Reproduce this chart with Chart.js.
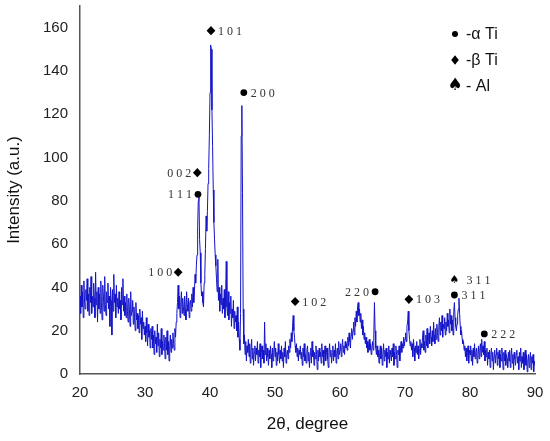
<!DOCTYPE html>
<html>
<head>
<meta charset="utf-8">
<script src="https://cdn.jsdelivr.net/npm/chart.js@4.4.1/dist/chart.umd.min.js"></script>
<style>
  html, body { margin: 0; padding: 0; background: #fff; }
  #wrap { width: 550px; height: 441px; }
</style>
</head>
<body>
<div id="wrap"><canvas id="xrd"></canvas></div>
<script>
// 2-theta scan positions (degree), one row per degree
const twoTheta = [
  20, 20.1, 20.2, 20.3, 20.4, 20.5, 20.6, 20.7, 20.8, 20.9,
  21, 21.1, 21.2, 21.3, 21.4, 21.5, 21.6, 21.7, 21.8, 21.9,
  22, 22.1, 22.2, 22.3, 22.4, 22.5, 22.6, 22.7, 22.8, 22.9,
  23, 23.1, 23.2, 23.3, 23.4, 23.5, 23.6, 23.7, 23.8, 23.9,
  24, 24.1, 24.2, 24.3, 24.4, 24.5, 24.6, 24.7, 24.8, 24.9,
  25, 25.1, 25.2, 25.3, 25.4, 25.5, 25.6, 25.7, 25.8, 25.9,
  26, 26.1, 26.2, 26.3, 26.4, 26.5, 26.6, 26.7, 26.8, 26.9,
  27, 27.1, 27.2, 27.3, 27.4, 27.5, 27.6, 27.7, 27.8, 27.9,
  28, 28.1, 28.2, 28.3, 28.4, 28.5, 28.6, 28.7, 28.8, 28.9,
  29, 29.1, 29.2, 29.3, 29.4, 29.5, 29.6, 29.7, 29.8, 29.9,
  30, 30.1, 30.2, 30.3, 30.4, 30.5, 30.6, 30.7, 30.8, 30.9,
  31, 31.1, 31.2, 31.3, 31.4, 31.5, 31.6, 31.7, 31.8, 31.9,
  32, 32.1, 32.2, 32.3, 32.4, 32.5, 32.6, 32.7, 32.8, 32.9,
  33, 33.1, 33.2, 33.3, 33.4, 33.5, 33.6, 33.7, 33.8, 33.9,
  34, 34.1, 34.2, 34.3, 34.4, 34.5, 34.6, 34.7, 34.8, 34.9,
  35, 35.1, 35.2, 35.3, 35.4, 35.5, 35.6, 35.7, 35.8, 35.9,
  36, 36.1, 36.2, 36.3, 36.4, 36.5, 36.6, 36.7, 36.8, 36.9,
  37, 37.1, 37.2, 37.3, 37.4, 37.5, 37.6, 37.7, 37.8, 37.9,
  38, 38.1, 38.2, 38.3, 38.4, 38.5, 38.6, 38.7, 38.8, 38.9,
  39, 39.1, 39.2, 39.3, 39.4, 39.5, 39.6, 39.7, 39.8, 39.9,
  40, 40.1, 40.2, 40.3, 40.4, 40.5, 40.6, 40.7, 40.8, 40.9,
  41, 41.1, 41.2, 41.3, 41.4, 41.5, 41.6, 41.7, 41.8, 41.9,
  42, 42.1, 42.2, 42.3, 42.4, 42.5, 42.6, 42.7, 42.8, 42.9,
  43, 43.1, 43.2, 43.3, 43.4, 43.5, 43.6, 43.7, 43.8, 43.9,
  44, 44.1, 44.2, 44.3, 44.4, 44.5, 44.6, 44.7, 44.8, 44.9,
  45, 45.1, 45.2, 45.3, 45.4, 45.5, 45.6, 45.7, 45.8, 45.9,
  46, 46.1, 46.2, 46.3, 46.4, 46.5, 46.6, 46.7, 46.8, 46.9,
  47, 47.1, 47.2, 47.3, 47.4, 47.5, 47.6, 47.7, 47.8, 47.9,
  48, 48.1, 48.2, 48.3, 48.4, 48.5, 48.6, 48.7, 48.8, 48.9,
  49, 49.1, 49.2, 49.3, 49.4, 49.5, 49.6, 49.7, 49.8, 49.9,
  50, 50.1, 50.2, 50.3, 50.4, 50.5, 50.6, 50.7, 50.8, 50.9,
  51, 51.1, 51.2, 51.3, 51.4, 51.5, 51.6, 51.7, 51.8, 51.9,
  52, 52.1, 52.2, 52.3, 52.4, 52.5, 52.6, 52.7, 52.8, 52.9,
  53, 53.1, 53.2, 53.3, 53.4, 53.5, 53.6, 53.7, 53.8, 53.9,
  54, 54.1, 54.2, 54.3, 54.4, 54.5, 54.6, 54.7, 54.8, 54.9,
  55, 55.1, 55.2, 55.3, 55.4, 55.5, 55.6, 55.7, 55.8, 55.9,
  56, 56.1, 56.2, 56.3, 56.4, 56.5, 56.6, 56.7, 56.8, 56.9,
  57, 57.1, 57.2, 57.3, 57.4, 57.5, 57.6, 57.7, 57.8, 57.9,
  58, 58.1, 58.2, 58.3, 58.4, 58.5, 58.6, 58.7, 58.8, 58.9,
  59, 59.1, 59.2, 59.3, 59.4, 59.5, 59.6, 59.7, 59.8, 59.9,
  60, 60.1, 60.2, 60.3, 60.4, 60.5, 60.6, 60.7, 60.8, 60.9,
  61, 61.1, 61.2, 61.3, 61.4, 61.5, 61.6, 61.7, 61.8, 61.9,
  62, 62.1, 62.2, 62.3, 62.4, 62.5, 62.6, 62.7, 62.8, 62.9,
  63, 63.1, 63.2, 63.3, 63.4, 63.5, 63.6, 63.7, 63.8, 63.9,
  64, 64.1, 64.2, 64.3, 64.4, 64.5, 64.6, 64.7, 64.8, 64.9,
  65, 65.1, 65.2, 65.3, 65.4, 65.5, 65.6, 65.7, 65.8, 65.9,
  66, 66.1, 66.2, 66.3, 66.4, 66.5, 66.6, 66.7, 66.8, 66.9,
  67, 67.1, 67.2, 67.3, 67.4, 67.5, 67.6, 67.7, 67.8, 67.9,
  68, 68.1, 68.2, 68.3, 68.4, 68.5, 68.6, 68.7, 68.8, 68.9,
  69, 69.1, 69.2, 69.3, 69.4, 69.5, 69.6, 69.7, 69.8, 69.9,
  70, 70.1, 70.2, 70.3, 70.4, 70.5, 70.6, 70.7, 70.8, 70.9,
  71, 71.1, 71.2, 71.3, 71.4, 71.5, 71.6, 71.7, 71.8, 71.9,
  72, 72.1, 72.2, 72.3, 72.4, 72.5, 72.6, 72.7, 72.8, 72.9,
  73, 73.1, 73.2, 73.3, 73.4, 73.5, 73.6, 73.7, 73.8, 73.9,
  74, 74.1, 74.2, 74.3, 74.4, 74.5, 74.6, 74.7, 74.8, 74.9,
  75, 75.1, 75.2, 75.3, 75.4, 75.5, 75.6, 75.7, 75.8, 75.9,
  76, 76.1, 76.2, 76.3, 76.4, 76.5, 76.6, 76.7, 76.8, 76.9,
  77, 77.1, 77.2, 77.3, 77.4, 77.5, 77.6, 77.7, 77.8, 77.9,
  78, 78.1, 78.2, 78.3, 78.4, 78.5, 78.6, 78.7, 78.8, 78.9,
  79, 79.1, 79.2, 79.3, 79.4, 79.5, 79.6, 79.7, 79.8, 79.9,
  80, 80.1, 80.2, 80.3, 80.4, 80.5, 80.6, 80.7, 80.8, 80.9,
  81, 81.1, 81.2, 81.3, 81.4, 81.5, 81.6, 81.7, 81.8, 81.9,
  82, 82.1, 82.2, 82.3, 82.4, 82.5, 82.6, 82.7, 82.8, 82.9,
  83, 83.1, 83.2, 83.3, 83.4, 83.5, 83.6, 83.7, 83.8, 83.9,
  84, 84.1, 84.2, 84.3, 84.4, 84.5, 84.6, 84.7, 84.8, 84.9,
  85, 85.1, 85.2, 85.3, 85.4, 85.5, 85.6, 85.7, 85.8, 85.9,
  86, 86.1, 86.2, 86.3, 86.4, 86.5, 86.6, 86.7, 86.8, 86.9,
  87, 87.1, 87.2, 87.3, 87.4, 87.5, 87.6, 87.7, 87.8, 87.9,
  88, 88.1, 88.2, 88.3, 88.4, 88.5, 88.6, 88.7, 88.8, 88.9,
  89, 89.1, 89.2, 89.3, 89.4, 89.5, 89.6, 89.7, 89.8, 89.9,
  90
];

// intensity (a.u.), same rows as twoTheta
const intensity = [
  36, 28, 41, 31, 38, 26, 43, 33, 30, 39,
  34, 44, 29, 37, 27, 40, 33, 45, 28, 36,
  31, 42, 35, 26, 47, 32, 38, 24, 40, 30,
  37, 28, 43, 33, 25, 41, 36, 29, 45, 32,
  27, 38, 33, 42, 30, 36, 22, 40, 34, 18,
  39, 29, 46, 33, 37, 26, 41, 31, 35, 28,
  38, 30, 34, 25, 40, 32, 44, 29, 36, 27,
  33, 26, 37, 29, 24, 35, 30, 22, 38, 27,
  29, 34, 23, 31, 26, 20, 33, 25, 28, 21,
  27, 19, 30, 23, 26, 16, 29, 21, 24, 18,
  22, 15, 26, 19, 13, 23, 17, 20, 12, 21,
  16, 22, 12, 18, 9, 20, 14, 17, 10, 23,
  13, 19, 8, 16, 12, 21, 9, 15, 11, 18,
  14, 7, 17, 11, 20, 9, 15, 6, 13, 18,
  10, 16, 12, 19, 14, 11, 21, 17, 24, 28,
  33, 41, 30, 36, 26, 33, 38, 28, 35, 31,
  27, 36, 30, 25, 38, 32, 29, 35, 26, 33,
  34, 29, 37, 31, 40, 33, 38, 46, 42, 50,
  55, 68, 80, 82, 62, 56, 42, 36, 38, 33,
  31, 42, 46, 58, 73, 66, 75, 88, 95, 110,
  130, 152, 150, 122, 105, 85, 70, 62, 55, 50,
  44, 38, 53, 34, 40, 29, 37, 32, 41, 28,
  35, 30, 39, 26, 36, 52, 31, 27, 38, 25,
  33, 28, 36, 22, 30, 26, 34, 21, 29, 24,
  27, 20, 31, 17, 24, 16, 11, 28, 110, 124,
  84, 30, 14, 18, 9, 15, 6, 13, 10, 16,
  8, 14, 5, 11, 16, 7, 12, 4, 10, 13,
  6, 12, 9, 15, 5, 11, 8, 14, 3, 10,
  13, 7, 11, 5, 24, 9, 14, 6, 12, 8,
  4, 11, 7, 13, 9, 3, 12, 6, 10, 15,
  8, 12, 4, 10, 6, 14, 9, 5, 11, 7,
  13, 6, 10, 3, 12, 8, 15, 5, 9, 11,
  7, 13, 10, 16, 12, 19, 15, 22, 27, 20,
  17, 13, 10, 14, 8, 12, 6, 11, 9, 13,
  7, 10, 4, 12, 8, 14, 6, 9, 5, 11,
  13, 6, 10, 3, 9, 12, 5, 15, 8, 11,
  4, 10, 7, 13, 9, 2, 11, 6, 12, 8,
  10, 5, 14, 8, 11, 4, 9, 13, 6, 10,
  12, 7, 3, 10, 14, 8, 11, 5, 9, 13,
  6, 11, 8, 14, 5, 10, 12, 7, 15, 9,
  11, 14, 8, 12, 16, 10, 13, 9, 15, 12,
  14, 11, 17, 13, 19, 15, 12, 18, 21, 16,
  20, 24, 18, 26, 22, 29, 24, 31, 33, 27,
  30, 24, 28, 21, 25, 18, 22, 16, 19, 14,
  17, 12, 15, 10, 13, 16, 11, 14, 9, 12,
  15, 11, 18, 33, 20, 12, 9, 13, 8, 11,
  5, 10, 13, 7, 12, 4, 9, 14, 6, 11,
  8, 12, 3, 10, 7, 13, 5, 11, 9, 6,
  12, 8, 14, 4, 10, 7, 13, 9, 3, 11,
  9, 13, 6, 11, 15, 10, 14, 12, 17, 13,
  16, 19, 15, 22, 24, 29, 20, 16, 13, 15,
  11, 14, 8, 16, 12, 6, 13, 10, 15, 9,
  13, 7, 11, 16, 9, 14, 12, 17, 20, 11,
  15, 10, 18, 13, 21, 12, 16, 19, 14, 22,
  17, 13, 20, 15, 24, 18, 14, 21, 16, 23,
  19, 15, 22, 26, 18, 24, 20, 27, 17, 23,
  21, 26, 18, 24, 20, 28, 22, 25, 19, 30,
  23, 27, 20, 25, 18, 29, 33, 26, 22, 20,
  23, 27, 30, 35, 28, 22, 18, 20, 16, 14,
  15, 11, 13, 8, 12, 6, 10, 13, 5, 11,
  9, 13, 6, 11, 4, 12, 8, 14, 7, 10,
  12, 5, 9, 13, 7, 11, 14, 8, 16, 10,
  13, 9, 15, 6, 11, 8, 12, 4, 10, 7,
  11, 3, 9, 12, 6, 10, 2, 8, 11, 5,
  9, 12, 4, 10, 7, 11, 3, 9, 6, 12,
  8, 2, 10, 6, 11, 4, 9, 7, 3, 10,
  6, 11, 3, 8, 12, 5, 9, 2, 10, 7,
  4, 9, 11, 5, 8, 2, 10, 6, 12, 3,
  8, 5, 10, 2, 7, 11, 4, 9, 1, 6,
  9, 3, 7, 10, 2, 8, 5, 9, 1, 6,
  4
];

// peak indexing: phase, hkl, where the marker sits (degree, intensity)
const peakPhase = ['beta', 'alpha', 'beta', 'alpha', 'beta', 'beta', 'alpha', 'beta', 'al', 'alpha', 'alpha'];
const peakHkl   = ['101', '200', '002', '111', '100', '102', '220', '103', '311', '311', '222'];
const peakAt    = [40.15, 45.2, 38.05, 38.15, 35.1, 53.1, 65.4, 70.6, 77.6, 77.6, 82.2];
const peakH     = [158.6, 130, 93, 83, 47, 33.5, 38, 34.5, 43.5, 36.5, 18.5];
const peakSide  = ['r', 'r', 'l', 'l', 'l', 'r', 'l', 'r', 'r', 'r', 'r'];

const legendText = ['-\u03b1 Ti', '-\u03b2 Ti', '- Al'];
const legendPhase = ['alpha', 'beta', 'al'];

const points = twoTheta.map((t, i) => ({ x: t, y: intensity[i] }));

function drawMark(ctx, phase, px, py, big) {
  ctx.fillStyle = '#000';
  if (phase === 'alpha') {
    ctx.beginPath();
    ctx.arc(px, py, big ? 3 : 3.4, 0, Math.PI * 2);
    ctx.fill();
  } else if (phase === 'beta') {
    const w = big ? 3.8 : 4.4, h = big ? 4.8 : 4.6;
    ctx.beginPath();
    ctx.moveTo(px, py - h);
    ctx.lineTo(px + w, py);
    ctx.lineTo(px, py + h);
    ctx.lineTo(px - w, py);
    ctx.closePath();
    ctx.fill();
  } else {
    ctx.font = (big ? 17 : 11) + 'px "DejaVu Sans"';
    ctx.textAlign = 'center';
    ctx.textBaseline = 'middle';
    ctx.fillText('\u2660', px, py);
  }
}

const peakNotes = {
  id: 'peakNotes',
  afterDraw(chart) {
    const { ctx, scales: { x, y } } = chart;
    ctx.save();
    peakHkl.forEach((hkl, i) => {
      const px = x.getPixelForValue(peakAt[i]);
      const py = y.getPixelForValue(peakH[i]);
      const phase = peakPhase[i];
      drawMark(ctx, phase, px, py, false);
      const gap = phase === 'al' ? 12 : 7;
      ctx.font = '12px "Liberation Serif", "Times New Roman", serif';
      ctx.fillStyle = '#333';
      ctx.textBaseline = 'middle';
      ctx.textAlign = peakSide[i] === 'l' ? 'right' : 'left';
      const tx = peakSide[i] === 'l' ? px - gap + 1 : px + gap;
      ctx.fillText(hkl.split('').join(' '), tx, py + 1);
    });
    // legend, top right
    legendText.forEach((t, i) => {
      const ly = 34 + i * 26;
      drawMark(ctx, legendPhase[i], 455, ly, true);
      ctx.font = '16px "Liberation Sans", Arial, sans-serif';
      ctx.fillStyle = '#111';
      ctx.textAlign = 'left';
      ctx.textBaseline = 'middle';
      ctx.fillText(t, 466, ly + 1);
    });
    ctx.restore();
  }
};

const tickFont = { family: '"Liberation Sans", Arial, sans-serif', size: 15 };
const titleFont = { family: '"Liberation Sans", Arial, sans-serif', size: 17 };

new Chart(document.getElementById('xrd'), {
  type: 'line',
  data: {
    datasets: [{
      label: 'XRD',
      data: points,
      borderColor: 'rgb(20, 20, 200)',
      borderWidth: 1,
      pointRadius: 0,
      tension: 0,
      fill: false
    }]
  },
  options: {
    responsive: true,
    maintainAspectRatio: false,
    animation: false,
    layout: { padding: { top: 6, right: 15, left: 0, bottom: 0 } },
    plugins: {
      legend: { display: false },
      tooltip: { enabled: false }
    },
    scales: {
      x: {
        type: 'linear',
        min: 20,
        max: 90,
        grid: { display: false, drawTicks: false },
        border: { display: true, color: '#555', width: 1.5 },
        ticks: { stepSize: 10, font: tickFont, color: '#222', padding: 10, maxRotation: 0 },
        title: { display: true, text: '2\u03b8, degree', font: titleFont, color: '#111', padding: { top: 4, bottom: 6 } },
        afterFit(scale) {
          scale.height = 67;
          scale.paddingLeft = 0;
          scale.paddingRight = 0;
        }
      },
      y: {
        min: 0,
        max: 170,
        grid: { display: false, drawTicks: false },
        border: { display: true, color: '#555', width: 1.5 },
        ticks: { stepSize: 20, font: tickFont, color: '#222', padding: 12 },
        afterBuildTicks(scale) { scale.ticks = scale.ticks.filter(t => t.value <= 160); },
        title: { display: true, text: 'Intensity (a.u.)', font: titleFont, color: '#111', padding: { top: 4, bottom: 4 } },
        afterFit(scale) {
          scale.width = 80;
          scale.paddingTop = 0;
          scale.paddingBottom = 0;
        }
      }
    }
  },
  plugins: [peakNotes]
});
</script>
</body>
</html>
